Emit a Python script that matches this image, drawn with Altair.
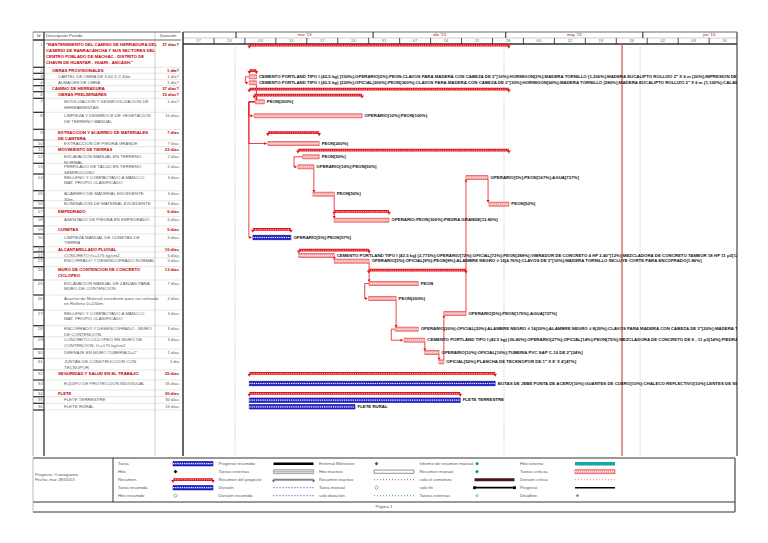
import altair as alt
import pandas as pd

FONT = "Liberation Sans"

# ------------------------------------------------------------------ data
TASK_ID = list(range(1, 37))
OUTLINE_LEVEL = [1, 2, 3, 3, 2, 3, 4, 4, 3, 4, 3, 4, 4, 4, 4, 4, 3, 4,
                 3, 4, 3, 4, 4, 3, 4, 4, 4, 4, 4, 4, 4, 3, 4, 3, 4, 4]
SUMMARY_IDS = [1, 2, 5, 6, 9, 11, 17, 19, 21, 24, 32, 34]
NONCRITICAL_IDS = [20, 33, 35, 36]
TASK_NAME = [
    '"MANTENIMIENTO DEL CAMINO DE HERRADURA DEL|CASERIO DE RANRACANCHA Y SUS SECTORES DEL|'
    'CENTRO POBLADO DE MACHAC - DISTRITO DE|CHAVIN DE HUANTAR - HUARI - ANCASH."',
    "OBRAS PROVISIONALES",
    "CARTEL DE OBRA DE 3.60 X 2.40m",
    "ALMACEN DE OBRA",
    "CAMINO DE HERRADURA",
    "OBRAS PRELIMINARES",
    "MOVILIZACION Y DESMOVILIZACION DE|HERRAMIENTAS",
    "LIMPIEZA Y DESBROCE DE VEGETACION|DE TERRENO MANUAL",
    "EXTRACCION Y ACARREO DE MATERIALES|DE CANTERA",
    "EXTRACCION DE PIEDRA GRANDE",
    "MOVIMIENTO DE TIERRAS",
    "EXCAVACION MANUAL EN TERRENO|NORMAL",
    "PERFILADO DE TALUD EN TERRENO|SEMIROCOSO",
    "RELLENO Y COMPACTADO A MANO C/|MAT. PROPIO CLASIFICADO",
    "ACARREO DE MATERIAL EXCEDENTE|30m.",
    "ELIMINACION DE MATERIAL EXCEDENTE",
    "EMPEDRADO",
    "ASENTADO DE PIEDRA EN EMPEDRADO",
    "CUNETAS",
    "LIMPIEZA MANUAL DE CUNETAS DE|TIERRA",
    "ALCANTARILLADO PLUVIAL",
    "CONCRETO f'c=175 kg/cm2",
    "ENCOFRADO Y DESENCOFRADO NORMAL",
    "MURO DE CONTENCION DE CONCRETO|CICLOPEO",
    "EXCAVACION MANUAL DE ZANJAS PARA|MURO DE CONTENCION.",
    "Acarreo de Material excedente para ser utilizado|en Relleno D=150m",
    "RELLENO Y COMPACTADO A MANO C/|MAT. PROPIO CLASIFICADO",
    "ENCOFRADO Y DESENCOFRADO - MURO|DE CONTENCION",
    "CONCRETO CICLOPEO EN MURO DE|CONTENCION. f'c=175 kg/cm2",
    'DRENAJE EN MURO TUBERIA D=2"',
    "JUNTAS DE CONSTRUCCION CON|TECNOPOR",
    "SEGURIDAD Y SALUD EN EL TRABAJO",
    "EQUIPO DE PROTECCION INDIVIDUAL",
    "FLETE",
    "FLETE TERRESTRE",
    "FLETE RURAL",
]
DURATION = ["37 días?", "1 día?", "1 día?", "1 día?", "37 días?", "15 días?", "1 día?",
            "15 días", "7 días", "7 días", "22 días", "2 días", "2 días", "3 días",
            "3 días", "3 días", "6 días", "6 días", "5 días", "5 días", "10 días",
            "5 días", "5 días", "13 días", "7 días", "4 días", "3 días", "3 días",
            "3 días", "2 días", "1 día", "35 días", "35 días", "30 días", "30 días",
            "15 días"]
# start / finish in days after Sunday 17-feb-2013 (left edge of the time scale)
START_DAY = [15.0, 15.0, 15.0, 15.0, 15.0, 16.1, 16.35, 16.1, 19.2, 19.2, 26.0, 27.1,
             26.0, 64.0, 29.4, 69.2, 34.2, 34.2, 15.8, 15.8, 26.2, 26.2, 34.2, 42.0,
             42.1, 42.0, 59.0, 48.0, 50.0, 54.7, 57.9, 15.0, 15.0, 15.0, 15.0, 15.0]
FINISH_DAY = [73.7, 16.6, 16.6, 16.6, 73.7, 40.5, 18.4, 40.5, 30.8, 30.8, 73.7, 30.8,
              29.6, 69.0, 34.2, 73.7, 46.6, 46.6, 24.4, 24.4, 42.1, 34.2, 42.1, 64.0,
              53.2, 48.2, 64.0, 53.2, 54.7, 57.9, 59.0, 70.6, 70.6, 62.7, 62.7, 38.9]
RESOURCES = [
    "", "",
    'CEMENTO PORTLAND TIPO I (42.5 kg) [100%];OPERARIO[5%];PEON;CLAVOS PARA MADERA CON CABEZA DE 2"[10%];'
    'HORMIGON[2%];MADERA TORNILLO [1,200%];MADERA EUCALIPTO ROLLIZO 2" X 6 m [20%];IMPRESION DE GIGANTOGRAFIA',
    'CEMENTO PORTLAND TIPO I (42.5 kg) [220%];OFICIAL[200%];PEON[300%];CLAVOS PARA MADERA CON CABEZA DE 3"[30%];'
    'HORMIGON[60%];MADERA TORNILLO [280%];MADERA EUCALIPTO ROLLIZO 2" X 6 m [1,100%];CALAMINA',
    "", "",
    "PEON[300%]",
    "OPERARIO[10%];PEON[100%]",
    "",
    "PEON[200%]",
    "",
    "PEON[50%]",
    "OPERARIO[10%];PEON[50%]",
    "OPERARIO[5%];PEON[167%];AGUA[727%]",
    "PEON[50%]",
    "PEON[50%]",
    "",
    "OPERARIO;PEON[300%];PIEDRA GRANDE[13.80%]",
    "",
    "OPERARIO[5%];PEON[57%]",
    "",
    'CEMENTO PORTLAND TIPO I (42.5 kg) [2,775%];OPERARIO[72%];OFICIAL[72%];PEON[288%];VIBRADOR DE CONCRETO 4 HP 2.40"[12%];'
    'MEZCLADORA DE CONCRETO TAMBOR 18 HP 11 p3[12%]',
    'OPERARIO[5%];OFICIAL[8%];PEON[8%];ALAMBRE NEGRO # 16[4.76%];CLAVOS DE 3"[10%];MADERA TORNILLO INCLUYE CORTE PARA ENCOFRADO[1.86%]',
    "",
    "PEON",
    "PEON[200%]",
    "OPERARIO[5%];PEON[175%];AGUA[727%]",
    'OPERARIO[20%];OFICIAL[20%];ALAMBRE NEGRO # 16[20%];ALAMBRE NEGRO # 8[20%];CLAVOS PARA MADERA CON CABEZA DE 3"[20%];MADERA TORNILLO',
    'CEMENTO PORTLAND TIPO I (42.5 kg) [36.40%];OPERARIO[27%];OFICIAL[14%];PEON[75%];MEZCLADORA DE CONCRETO DE 9 - 11 p3[14%];PIEDRA MEDIANA',
    'OPERARIO[10%];OFICIAL[10%];TUBERIA PVC SAP C-10 DE 2"[24%]',
    "OFICIAL[50%];PLANCHA DE TECKNOPOR DE 1\" X 8' X 4'[47%]",
    "",
    "BOTAS DE JEBE PUNTA DE ACERO[10%];GUANTES DE CUERO[10%];CHALECO REFLECTIVO[10%];LENTES DE SEGURIDAD[10%];CASCO[10%]",
    "",
    "FLETE TERRESTRE",
    "FLETE RURAL",
]
# (predecessor, successor, link type)
LINKS = [(3, 4, "SS"), (4, 7, "FS"), (7, 8, "SS"), (7, 10, "SS"), (7, 20, "SS"),
         (12, 13, "SS"), (13, 15, "FS"), (15, 18, "FS"), (22, 23, "FS"), (23, 25, "FS"),
         (25, 26, "SS"), (26, 28, "FS"), (28, 29, "SS"), (29, 30, "FS"), (30, 31, "FS"),
         (31, 27, "FS"), (27, 14, "FS"), (14, 16, "FS")]

MONTH_LABELS = ["mar '13", "abr '13", "may '13", "jun '13"]
MONTH_START = [12, 43, 73, 104]
MONTH_DAYS = [31, 30, 31, 30]
WEEK_LABELS = ["17", "24", "03", "10", "17", "24", "31", "07", "14", "21", "28",
               "05", "12", "19", "26", "02", "09", "16"]
WEEK_START = [0, 7, 14, 21, 28, 35, 42, 49, 56, 63, 70, 77, 84, 91, 98, 105, 112, 119]
GRID_DAYS = [11.8, 72.6, 103.4]
STATUS_DAY = 99.3

LEGEND_LABELS = [
    ["Tarea", "Hito", "Resumen", "Tarea resumida", "Hito resumido"],
    ["Progreso resumido", "Tareas externas", "Resumen del proyecto", "División", "División resumida"],
    ["External Milestone", "Hito inactivo", "Resumen inactivo", "Tarea manual", "solo duración"],
    ["Informe de resumen manual", "Resumen manual", "solo el comienzo", "solo fin", "Tareas externas"],
    ["Hito externo", "Tareas críticas", "División crítica", "Progreso", "Deadline"],
]
LEGEND_SYMBOL = [
    ["task", "milestone", "summary", "task", "milestone_outline"],
    ["thick_line", "external_task", "project_summary", "dotted_blue", "dotted_blue"],
    ["milestone_grey", "inactive_bar", "dotted_grey", "milestone_outline", "dotted_teal"],
    ["milestone_teal", "milestone_teal", "start_only", "finish_only", "milestone_ext"],
    ["ext_bar", "critical", "dotted_pink", "progress_line", "deadline"],
]
PROJECT_INFO = ["Proyecto: Cronograma", "Fecha: mar 28/05/13"]
PAGE_TEXT = "Página 1"

# row heights of the printed table (points)
ROW_HEIGHT = [27.3, 6, 6, 6.4, 6, 6.6, 14, 17, 10.7, 6.7, 6.6, 10, 10.7, 16.7, 10, 7.3,
              8.7, 9.3, 8, 12.7, 5.3, 5.7, 9, 13.3, 15, 15, 15.7, 11, 12.3, 9.3, 11.7,
              10, 10, 6.7, 6.6, 6.7]

# ------------------------------------------------------------------ styles
RED = "#e3121b"
DARK_RED = "#c00000"
GREY_TXT = "#5a5a5a"
PINK = "#f5a6a6"
BLUE = "#2a2ad4"
FS_TABLE = 4.4
FS_BOLD = 4.25
FS_LABEL = 4.35
FS_SMALL = 4.2

TW, GW, TH = 173, 554, 448
LW, LH = 727, 56
DAY_MAX = 125.3

XT = alt.Scale(domain=[0, TW], nice=False, zero=False)
XG = alt.Scale(domain=[0, DAY_MAX], nice=False, zero=False)
YT = alt.Scale(domain=[0, TH], nice=False, zero=False, reverse=True)
XL = alt.Scale(domain=[0, LW], nice=False, zero=False)
YL = alt.Scale(domain=[0, LH], nice=False, zero=False, reverse=True)


def X(f, s):
    return alt.X(f"{f}:Q", scale=s, axis=None)


def Y(f, s):
    return alt.Y(f"{f}:Q", scale=s, axis=None)


def segs(recs, xs, ys, color, width=1.0, dash=None, opacity=1.0):
    kw = dict(color=color, strokeWidth=width, opacity=opacity)
    if dash:
        kw["strokeDash"] = dash
    return alt.Chart(pd.DataFrame(recs)).mark_rule(**kw).encode(
        x=X("x", xs), x2="x2:Q", y=Y("y", ys), y2="y2:Q")


def rects(recs, xs, ys, fill, stroke=None, sw=0.0):
    kw = dict(fill=fill, opacity=1)
    if stroke:
        kw.update(stroke=stroke, strokeWidth=sw)
    return alt.Chart(pd.DataFrame(recs)).mark_rect(**kw).encode(
        x=X("x", xs), x2="x2:Q", y=Y("y", ys), y2="y2:Q")


def texts(recs, xs, ys, size, color, weight="normal", align="left", clip=False, dx=0):
    return alt.Chart(pd.DataFrame(recs)).mark_text(
        font=FONT, fontSize=size, color=color, fontWeight=weight, align=align,
        baseline="middle", clip=clip, dx=dx).encode(
        x=X("x", xs), y=Y("y", ys), text="t:N")


def points(recs, xs, ys, shape, color, size, filled=True):
    return alt.Chart(pd.DataFrame(recs)).mark_point(
        shape=shape, filled=filled, color=color, size=size, strokeWidth=0.8,
        opacity=1).encode(x=X("x", xs), y=Y("y", ys))


# ------------------------------------------------------------------ rows
tops, t = [], 32.0
for h in ROW_HEIGHT:
    tops.append(t)
    t += h
rows = pd.DataFrame({
    "id": TASK_ID, "level": OUTLINE_LEVEL, "name": TASK_NAME, "dur": DURATION,
    "start": START_DAY, "finish": FINISH_DAY, "res": RESOURCES,
    "top": tops, "h": ROW_HEIGHT,
})
rows["summary"] = rows.id.isin(SUMMARY_IDS)
rows["critical"] = ~rows.id.isin(NONCRITICAL_IDS)
rows["yc"] = rows.top + [5.3 if h > 20 else 3.5 for h in ROW_HEIGHT]

# ------------------------------------------------------------------ table panel
tl = []
for r in rows.itertuples():
    for k, line in enumerate(r.name.split("|")):
        tl.append(dict(x=38 + 6 * (r.level - 1), y=r.yc + k * 5.8, t=line, s=r.summary))
tl = pd.DataFrame(tl)

table_layers = [
    segs([dict(x=36, x2=TW, y=r.top + r.h, y2=r.top + r.h) for r in rows.itertuples()],
         XT, YT, "#cfcfcf", 0.5),
    segs([dict(x=25, x2=36, y=r.top + r.h, y2=r.top + r.h) for r in rows.itertuples()]
         + [dict(x=25, x2=36, y=32, y2=32)], XT, YT, "#222", 1.2),
    segs([dict(x=25, x2=25, y=24, y2=TH)], XT, YT, "#999", 0.8),
    segs([dict(x=147, x2=147, y=24, y2=TH)], XT, YT, "#aaa", 0.6),
    segs([dict(x=36, x2=36, y=24, y2=TH)], XT, YT, "#333", 1.3),
    segs([dict(x=25, x2=TW, y=24, y2=24), dict(x=25, x2=TW, y=32, y2=32)], XT, YT, "#444", 0.8),
    texts([dict(x=30.5, y=28, t="Id")], XT, YT, FS_SMALL, "#444", align="center"),
    texts([dict(x=38, y=28, t="Descripción Partida")], XT, YT, FS_SMALL, "#444"),
    texts([dict(x=160, y=28, t="Duración")], XT, YT, FS_SMALL, "#444", align="center"),
    texts([dict(x=34.5, y=r.yc, t=str(r.id)) for r in rows.itertuples()], XT, YT, FS_SMALL,
          GREY_TXT, align="right"),
    texts(tl[~tl.s].to_dict("records"), XT, YT, FS_TABLE, GREY_TXT),
    texts(tl[tl.s].to_dict("records"), XT, YT, FS_BOLD, DARK_RED, weight="bold"),
    texts([dict(x=171, y=r.yc, t=r.dur) for r in rows.itertuples() if not r.summary],
          XT, YT, FS_SMALL, GREY_TXT, align="right"),
    texts([dict(x=171, y=r.yc, t=r.dur) for r in rows.itertuples() if r.summary],
          XT, YT, FS_SMALL, DARK_RED, weight="bold", align="right"),
]
table = alt.layer(*table_layers).properties(width=TW, height=TH)

# ------------------------------------------------------------------ gantt panel
summ = rows[rows.summary]
crit = rows[~rows.summary & rows.critical]
norm = rows[~rows.summary & ~rows.critical]
lab = rows[rows.res != ""]

idx = {r.id: r for r in rows.itertuples()}
ss_left = {}
for p, s, kind in LINKS:
    if kind == "SS":
        ss_left[p] = min(ss_left.get(p, 1e9), idx[p].start, idx[s].start)
link_segs, arrows = [], []
for p, s, kind in LINKS:
    P, S = idx[p], idx[s]
    if kind == "FS":
        down = S.yc > P.yc
        y0 = P.yc + (2 if down else -2)
        y1 = S.yc + (-2.8 if down else 2.8)
        link_segs.append(dict(x=P.finish, x2=P.finish, y=y0, y2=y1))
        arrows.append(dict(x=P.finish, y=y1, shape="triangle-down" if down else "triangle-up"))
    else:
        xl = ss_left[p] - 0.9
        link_segs += [dict(x=xl, x2=P.start, y=P.yc, y2=P.yc),
                      dict(x=xl, x2=xl, y=P.yc, y2=S.yc),
                      dict(x=xl, x2=S.start - 0.5, y=S.yc, y2=S.yc)]
        arrows.append(dict(x=S.start - 0.5, y=S.yc, shape="triangle-right"))

arrow_layer = alt.Chart(pd.DataFrame(arrows)).mark_point(
    filled=True, color=RED, size=9, opacity=1).encode(
    x=X("x", XG), y=Y("y", YT), shape=alt.Shape("shape:N", scale=None))

gantt_layers = [
    # header
    segs([dict(x=0, x2=DAY_MAX, y=30, y2=30)], XG, YT, "#999", 0.5),
    segs([dict(x=0, x2=DAY_MAX, y=24, y2=24)], XG, YT, "#444", 0.8),
    segs([dict(x=0, x2=DAY_MAX, y=36, y2=36)], XG, YT, "#333", 1.5),
    segs([dict(x=m, x2=m, y=24, y2=30) for m in MONTH_START], XG, YT, "#222", 1.0),
    segs([dict(x=w, x2=w, y=30, y2=36) for w in WEEK_START[1:]], XG, YT, "#222", 0.8),
    texts([dict(x=m + d / 2, y=27.3, t=l) for m, d, l in zip(MONTH_START, MONTH_DAYS, MONTH_LABELS)],
          XG, YT, FS_SMALL, "#8b1c1c", align="center"),
    texts([dict(x=w + 3.5, y=33.2, t=l) for w, l in zip(WEEK_START, WEEK_LABELS)],
          XG, YT, FS_SMALL, "#2f8f2f", align="center"),
    # body grid and status line
    segs([dict(x=g, x2=g, y=36, y2=TH) for g in GRID_DAYS], XG, YT, "#999", 0.6, dash=[1, 1.5]),
    segs([dict(x=STATUS_DAY, x2=STATUS_DAY, y=36, y2=TH)], XG, YT, "#d35f5f", 1.3),
    segs([dict(x=0, x2=0, y=24, y2=TH)], XG, YT, "#333", 1.5),
    segs([dict(x=DAY_MAX, x2=DAY_MAX, y=24, y2=TH)], XG, YT, "#444", 1.2),
    # links
    segs(link_segs, XG, YT, RED, 0.8),
    arrow_layer,
    # summary bars
    rects([dict(x=r.start, x2=r.finish, y=r.yc - 1.5, y2=r.yc + 1.3) for r in summ.itertuples()],
          XG, YT, RED),
    segs([dict(x=r.start, x2=r.finish, y=r.yc, y2=r.yc) for r in summ.itertuples()],
         XG, YT, "#ffffff", 0.7, dash=[1, 1.2]),
    points([dict(x=v, y=r.yc + 1.8) for r in summ.itertuples() for v in (r.start, r.finish)],
           XG, YT, "triangle-down", RED, 13),
    # critical tasks
    rects([dict(x=r.start, x2=r.finish, y=r.yc - 2, y2=r.yc + 2) for r in crit.itertuples()],
          XG, YT, PINK, stroke="#e03030", sw=0.6),
    segs([dict(x=r.start, x2=r.finish, y=r.yc, y2=r.yc) for r in crit.itertuples()],
         XG, YT, "#ffffff", 1.2, dash=[1, 1], opacity=0.8),
    # normal tasks
    rects([dict(x=r.start, x2=r.finish, y=r.yc - 2.2, y2=r.yc + 2.2) for r in norm.itertuples()],
          XG, YT, BLUE, stroke="#000080", sw=0.6),
    segs([dict(x=r.start, x2=r.finish, y=r.yc, y2=r.yc) for r in norm.itertuples()],
         XG, YT, "#ffffff", 1.2, dash=[1.2, 1]),
    # resource labels
    texts([dict(x=r.finish, y=r.yc, t=r.res) for r in lab.itertuples()], XG, YT, FS_LABEL,
          "#111", weight="bold", clip=True, dx=2.5),
]
gantt = alt.layer(*gantt_layers).properties(width=GW, height=TH)

# ------------------------------------------------------------------ legend panel
leg_txt, sym = [], {}
for c, (labels, kinds) in enumerate(zip(LEGEND_LABELS, LEGEND_SYMBOL)):
    lx = 110 + 100.5 * c
    for r, (l, k) in enumerate(zip(labels, kinds)):
        y = 5.7 + 8 * r
        leg_txt.append(dict(x=lx, y=y, t=l))
        sym.setdefault(k, []).append(dict(x0=lx + 55, x1=lx + 95, y=y))


def bar(k, dy):
    return [dict(x=s["x0"], x2=s["x1"], y=s["y"] - dy, y2=s["y"] + dy) for s in sym[k]]


def line(k):
    return [dict(x=s["x0"], x2=s["x1"], y=s["y"], y2=s["y"]) for s in sym[k]]


def pt(k):
    return [dict(x=s["x0"] + 2.5, y=s["y"]) for s in sym[k]]


def ends(k, dy):
    return [dict(x=v, y=s["y"] + dy) for s in sym[k] for v in (s["x0"], s["x1"])]


legend_layers = [
    segs([dict(x=25, x2=LW, y=0, y2=0)], XL, YL, "#333", 1.0),
    segs([dict(x=25, x2=LW, y=44, y2=44), dict(x=25, x2=LW, y=54, y2=54)], XL, YL, "#777", 1.5),
    segs([dict(x=25, x2=25, y=0, y2=54)], XL, YL, "#aaa", 0.8),
    segs([dict(x=LW, x2=LW, y=0, y2=54)], XL, YL, "#555", 1.3),
    segs([dict(x=105, x2=105, y=0, y2=44)], XL, YL, "#333", 1.0),
    texts([dict(x=27, y=17.3 + 5 * i, t=t) for i, t in enumerate(PROJECT_INFO)], XL, YL, 4.3, "#555"),
    texts([dict(x=376, y=48.5, t=PAGE_TEXT)], XL, YL, 4.3, "#555", align="center"),
    texts(leg_txt, XL, YL, 4.3, "#555"),
    # symbols
    rects(bar("task", 2.2), XL, YL, BLUE, stroke="#000080", sw=0.6),
    segs(line("task"), XL, YL, "#ffffff", 1.2, dash=[1.2, 1]),
    points(pt("milestone"), XL, YL, "diamond", "#000", 14),
    rects(bar("summary", 1.4), XL, YL, RED),
    segs(line("summary"), XL, YL, "#ffffff", 0.7, dash=[1, 1.2]),
    points(ends("summary", 1.8), XL, YL, "triangle-down", RED, 13),
    points(pt("milestone_outline"), XL, YL, "diamond", "#888", 14, filled=False),
    segs(line("thick_line"), XL, YL, "#000", 2.5),
    rects(bar("external_task", 2), XL, YL, "#dddddd", stroke="#777", sw=0.6),
    segs(line("external_task"), XL, YL, "#999", 1.2, dash=[1, 1]),
    segs(line("project_summary"), XL, YL, "#888", 2),
    points(ends("project_summary", 1.5), XL, YL, "triangle-down", "#777", 12),
    segs(line("dotted_blue"), XL, YL, "#3a3ab0", 1, dash=[1, 2]),
    points(pt("milestone_grey"), XL, YL, "diamond", "#555", 14),
    rects(bar("inactive_bar", 1.6), XL, YL, "#ffffff", stroke="#666", sw=0.7),
    segs(line("dotted_grey"), XL, YL, "#777", 1, dash=[1, 2]),
    segs(line("dotted_teal"), XL, YL, "#2a9d9d", 1, dash=[1, 2]),
    points(pt("milestone_teal"), XL, YL, "diamond", "#1a8c8c", 14),
    segs(line("start_only"), XL, YL, "#4d1414", 3),
    segs(line("finish_only"), XL, YL, "#000", 1.8),
    points(ends("finish_only", 0), XL, YL, "square", "#000", 8),
    points(pt("milestone_ext"), XL, YL, "diamond", "#b0bed6", 14),
    segs(line("ext_bar"), XL, YL, "#1aa3a3", 3.5),
    rects(bar("critical", 2), XL, YL, PINK, stroke="#e03030", sw=0.6),
    segs(line("critical"), XL, YL, "#ffffff", 1.2, dash=[1, 1], opacity=0.8),
    segs(line("dotted_pink"), XL, YL, "#e88888", 1, dash=[1, 2]),
    segs(line("progress_line"), XL, YL, "#000", 1.5),
    points(pt("deadline"), XL, YL, "diamond", "#44a044", 10),
]
legend = alt.layer(*legend_layers).properties(width=LW, height=LH)

top = alt.hconcat(table, gantt, spacing=0)
chart = alt.vconcat(top, legend, spacing=0).properties(
    padding=0, background="white"
).configure_view(stroke=None).configure_concat(spacing=0)

chart.save("out.html", embed_options={"renderer": "svg", "actions": False})
